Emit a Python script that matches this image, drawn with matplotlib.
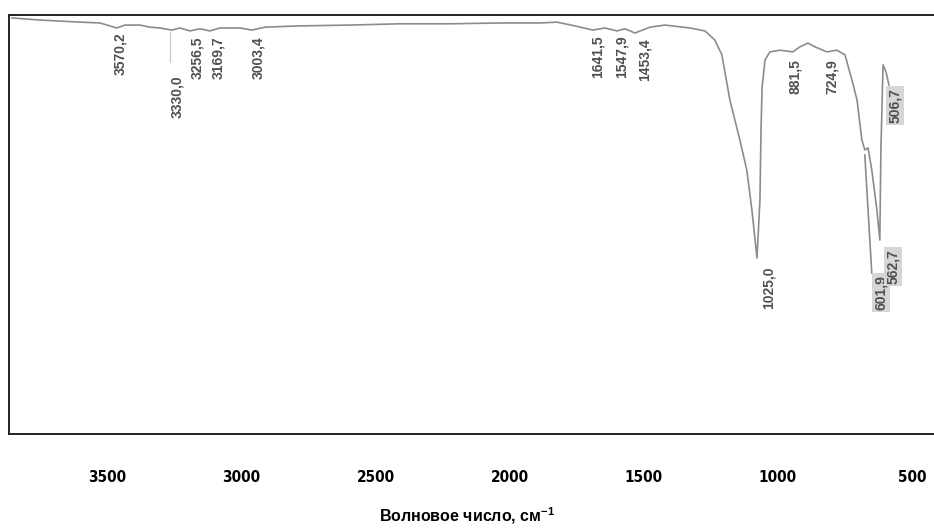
from matplotlib import font_manager
from matplotlib import pyplot as plt

# spectrum trace, wavenumber (cm-1) vs transmittance (arb. %)
wavenumber = [3856, 3752, 3602, 3528, 3491, 3465, 3435, 3379, 3342, 3304,
              3260, 3230, 3192, 3155, 3118, 3081, 3006, 2961, 2913, 2782,
              2596, 2409, 2223, 2036, 1887, 1824, 1757, 1690, 1645, 1600,
              1570, 1533, 1477, 1421, 1328, 1272, 1235, 1209, 1179, 1142,
              1116, 1097, 1078, 1067, 1063, 1059, 1048, 1030, 992, 944,
              918, 888, 862, 817, 780, 750, 724, 705, 687, 676,
              664, 650, 631, 620, 616, 608, 597, 586]
transmittance = [99.3, 98.8, 98.3, 98.1, 97.4, 96.9, 97.6, 97.6, 97.1, 96.9,
                 96.4, 96.9, 96.2, 96.7, 96.2, 96.9, 96.9, 96.4, 97.1, 97.4,
                 97.6, 97.9, 97.9, 98.1, 98.1, 98.3, 97.4, 96.4, 96.9, 96.2,
                 96.7, 95.7, 97.1, 97.6, 96.9, 96.2, 94.0, 90.5, 79.7, 70.2,
                 63.0, 53.5, 42.0, 55.8, 72.6, 82.8, 89.3, 91.2, 91.6, 91.2,
                 92.4, 93.3, 92.4, 91.2, 91.6, 90.5, 84.5, 79.7, 70.2, 67.8,
                 68.3, 63.0, 53.5, 46.3, 67.8, 88.1, 86.4, 83.3]

# second stroke of the trace near 601.9 and the thin mark at 3330
branch_wn = [676, 650]
branch_t = [66.6, 38.4]
mark_wn = [3267, 3267]
mark_t = [95.9, 88.8]

# peak labels and where they sit
peak_labels = ["3570,2", "3330,0", "3256,5", "3169,7", "3003,4", "1641,5", "1547,9",
               "1453,4", "881,5", "724,9", "506,7", "1025,0", "601,9", "562,7"]
label_wn = [3453, 3241, 3166, 3088, 2939, 1671, 1582, 1496, 937, 799, 564, 1034, 616, 571]
label_t = [90.7, 80.4, 89.7, 89.7, 89.7, 90.0, 90.0, 89.3, 85.2, 85.2, 78.5, 34.8, 33.7, 39.9]
shaded = ["506,7", "601,9", "562,7"]

ticks = [3500, 3000, 2500, 2000, 1500, 1000, 500]


def __narrow_bold__():
    # look for a condensed bold face for the tick numbers
    for f in font_manager.fontManager.ttflist:
        low = f.fname.lower()
        if ("condensed" in low or "narrow" in low) and "bold" in low and "oblique" not in low \
                and "italic" not in low:
            return font_manager.FontProperties(fname=f.fname, size=11)
    return font_manager.FontProperties(family="Liberation Sans", weight="bold", size=11)


fig = plt.figure(figsize=(9.34, 5.30), dpi=100)
ax = fig.add_axes([9 / 934, 96 / 530, 925 / 934, 419 / 530])

ax.plot(wavenumber, transmittance, color="#8c8c8c", lw=1.2)
ax.plot(branch_wn, branch_t, color="#8c8c8c", lw=1.2)
ax.plot(mark_wn, mark_t, color="#c8c8c8", lw=0.8)

for txt, x, y in zip(peak_labels, label_wn, label_t):
    box = None
    if txt in shaded:
        box = dict(boxstyle="square,pad=0.15", fc="#d6d6d6", ec="none")
    ax.text(x, y, txt, rotation=90, ha="center", va="center", fontsize=10,
            fontweight="bold", color="#505050", family="Liberation Sans", bbox=box)

ax.set_xlim(3867, 418)
ax.set_ylim(0, 100)
ax.set_yticks([])
ax.set_xticks(ticks)
ax.set_xticklabels([str(t) for t in ticks], fontproperties=__narrow_bold__())
ax.tick_params(axis="x", length=0, pad=26)
ax.spines["right"].set_visible(False)
for s in ["left", "top", "bottom"]:
    ax.spines[s].set_linewidth(1.4)
    ax.spines[s].set_color("#222222")

fig.text(467 / 934, 14 / 530, r"Волновое число, см$^{\mathregular{-1}}$", ha="center",
         va="center", fontsize=11.5, fontweight="bold", family="Liberation Sans")

fig.savefig("out.png", dpi=100)
